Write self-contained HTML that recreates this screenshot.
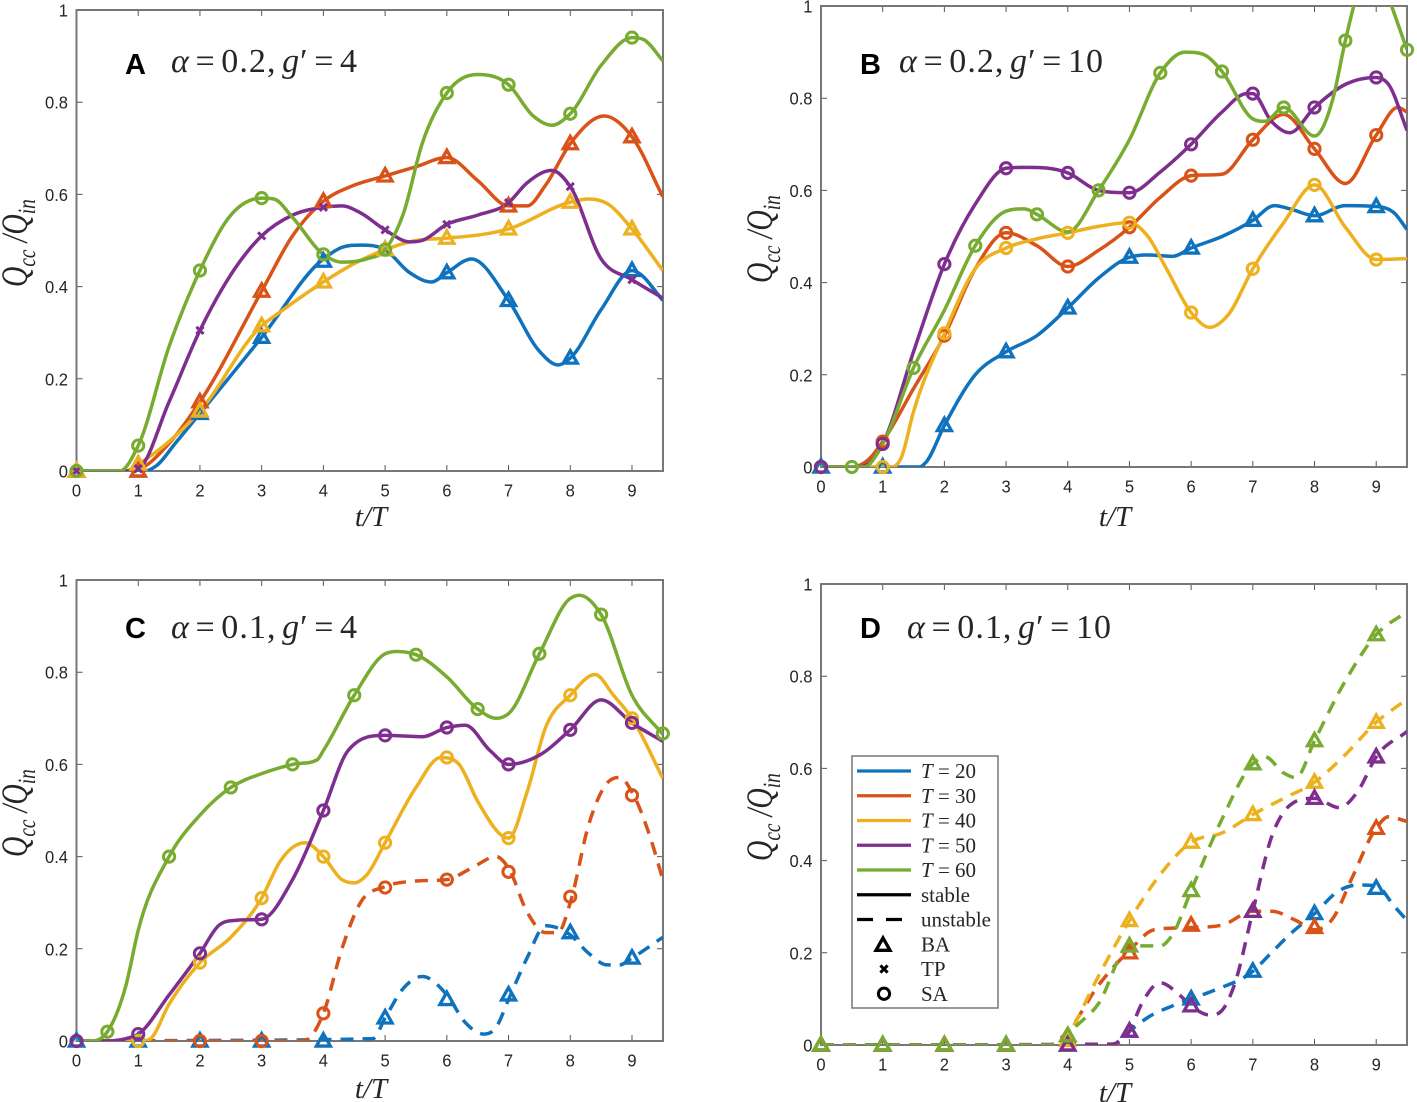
<!DOCTYPE html>
<html lang="en">
<head>
<meta charset="utf-8">
<title>Qcc/Qin versus t/T</title>
<style>
html,body{margin:0;padding:0;background:#fff;}
svg{display:block;}
.tick-text{font-family:"Liberation Sans",sans-serif;font-size:18px;fill:#262626;}
.serif{font-family:"Liberation Serif",serif;fill:#262626;}
.title{word-spacing:-4px;}
.letter{font-family:"Liberation Sans",sans-serif;font-weight:bold;font-size:29px;fill:#000;}
</style>
</head>
<body>
<svg id="figure" xmlns="http://www.w3.org/2000/svg" width="1417" height="1102" viewBox="0 0 1417 1102">
  <defs>
    <clipPath id="clip-a"><rect x="76.5" y="10" width="586.5" height="461"/></clipPath>
    <clipPath id="clip-b"><rect x="821" y="6" width="586" height="461"/></clipPath>
    <clipPath id="clip-c"><rect x="76.5" y="580" width="586.5" height="461"/></clipPath>
    <clipPath id="clip-d"><rect x="821" y="584" width="586" height="461"/></clipPath>
  </defs>

  <g id="panel-a">
    <text class="letter" x="125" y="74">A</text>
    <text class="serif title" x="171" y="72" font-size="34" textLength="186"><tspan font-style="italic">α</tspan> = 0.2, <tspan font-style="italic">g</tspan>′ = 4</text>
    <text class="serif" x="371" y="526" font-size="29" font-style="italic" text-anchor="middle">t/T</text>
    <text class="serif" transform="translate(27,287) rotate(-90) scale(0.88,1.15)" font-size="32" font-style="italic">Q<tspan font-size="22" dy="7">cc</tspan><tspan dy="-7"> /Q</tspan><tspan font-size="22" dy="7">in</tspan></text>
  </g>
  <g id="panel-b">
    <text class="letter" x="860" y="74">B</text>
    <text class="serif title" x="899" y="72" font-size="34" textLength="204"><tspan font-style="italic">α</tspan> = 0.2, <tspan font-style="italic">g</tspan>′ = 10</text>
    <text class="serif" x="1115" y="526" font-size="29" font-style="italic" text-anchor="middle">t/T</text>
    <text class="serif" transform="translate(772,283) rotate(-90) scale(0.88,1.15)" font-size="32" font-style="italic">Q<tspan font-size="22" dy="7">cc</tspan><tspan dy="-7"> /Q</tspan><tspan font-size="22" dy="7">in</tspan></text>
  </g>
  <g id="panel-c">
    <text class="letter" x="125" y="638">C</text>
    <text class="serif title" x="171" y="638" font-size="34" textLength="186"><tspan font-style="italic">α</tspan> = 0.1, <tspan font-style="italic">g</tspan>′ = 4</text>
    <text class="serif" x="371" y="1098" font-size="29" font-style="italic" text-anchor="middle">t/T</text>
    <text class="serif" transform="translate(27,857) rotate(-90) scale(0.88,1.15)" font-size="32" font-style="italic">Q<tspan font-size="22" dy="7">cc</tspan><tspan dy="-7"> /Q</tspan><tspan font-size="22" dy="7">in</tspan></text>
  </g>
  <g id="panel-d">
    <text class="letter" x="860" y="638">D</text>
    <text class="serif title" x="907" y="638" font-size="34" textLength="204"><tspan font-style="italic">α</tspan> = 0.1, <tspan font-style="italic">g</tspan>′ = 10</text>
    <text class="serif" x="1115" y="1102" font-size="29" font-style="italic" text-anchor="middle">t/T</text>
    <text class="serif" transform="translate(772,861) rotate(-90) scale(0.88,1.15)" font-size="32" font-style="italic">Q<tspan font-size="22" dy="7">cc</tspan><tspan dy="-7"> /Q</tspan><tspan font-size="22" dy="7">in</tspan></text>
  </g>

  <g id="legend"></g>
</svg>

<script>
// Axis tick labels
const xTickValues = [0,1,2,3,4,5,6,7,8,9];
const yTickValues = [0,0.2,0.4,0.6,0.8,1];
const yTickLabels = ['0','0.2','0.4','0.6','0.8','1'];
const seriesLabels = ['T = 20','T = 30','T = 40','T = 50','T = 60'];

// Shared marker times
const markInt = [0,1,2,3,4,5,6,7,8,9];
const markHalf = [0.5,1.5,2.5,3.5,4.5,5.5,6.5,7.5,8.5,9.5];

// Panel A: alpha 0.2, g' 4
const a20T = [0,1.1,1.3,1.6,2,3,4,4.3,4.6,5,5.4,5.75,6,6.4,7,7.5,7.8,8,8.5,9,9.1,9.5];
const a20V = [0,0,0.012,0.06,0.125,0.29,0.46,0.485,0.49,0.48,0.43,0.41,0.43,0.46,0.37,0.26,0.23,0.245,0.35,0.435,0.43,0.37];
const a30T = [0,0.9,1,1.5,2,3,3.5,4,4.5,5,5.5,6,6.5,7,7.3,7.6,8,8.55,9,9.5];
const a30V = [0,0,0.003,0.06,0.15,0.39,0.51,0.585,0.62,0.64,0.66,0.68,0.63,0.575,0.575,0.62,0.71,0.77,0.725,0.595];
const a40T = [0,0.8,1,2,3,3.3,4,4.5,5,5.5,6,7,8,8.3,8.6,9,9.5];
const a40V = [0,0,0.015,0.13,0.315,0.345,0.41,0.45,0.48,0.5,0.505,0.525,0.583,0.59,0.58,0.525,0.435];
const a50T = [0,0.7,1,1.5,2,3,3.5,4,4.3,4.6,5,5.4,5.6,6,6.5,7,7.3,7.7,8,8.5,9,9.5];
const a50V = [0,0,0.005,0.15,0.305,0.51,0.555,0.572,0.575,0.56,0.523,0.497,0.5,0.535,0.555,0.582,0.625,0.652,0.617,0.46,0.415,0.375];
const a60T = [0,0.7,1,1.5,2,2.5,3,3.2,3.5,4,4.3,4.7,5,5.3,5.6,6,6.5,7,7.4,7.7,8,8.5,9,9.2,9.5];
const a60V = [0,0,0.055,0.27,0.435,0.555,0.592,0.59,0.55,0.47,0.453,0.46,0.48,0.56,0.71,0.82,0.86,0.838,0.77,0.75,0.775,0.88,0.94,0.935,0.89];
const a20Mark = [0,0,0.125,0.29,0.455,0.48,0.43,0.37,0.245,0.435];
const a30Mark = [0,0,0.15,0.39,0.585,0.64,0.68,0.575,0.71,0.725];
const a40Mark = [0,0.015,0.13,0.315,0.41,0.48,0.505,0.525,0.583,0.525];
const a50Mark = [0,0.005,0.305,0.51,0.572,0.523,0.535,0.582,0.617,0.415];
const a60Mark = [0,0.055,0.435,0.592,0.47,0.48,0.82,0.838,0.775,0.94];

// Panel B: alpha 0.2, g' 10
const b20T = [0,1.6,1.7,2,2.5,3,3.5,4,4.5,5,5.3,5.7,6,6.5,7,7.35,7.6,8,8.5,9,9.3,9.5];
const b20V = [0,0,0.01,0.09,0.2,0.25,0.285,0.345,0.41,0.455,0.46,0.457,0.475,0.5,0.535,0.567,0.56,0.545,0.567,0.565,0.55,0.515];
const b30T = [0,0.5,0.8,1,1.5,2,2.5,3,3.5,4,4.5,5,5.5,6,6.5,7,7.5,8,8.5,9,9.35,9.5];
const b30V = [0,0,0.02,0.055,0.17,0.285,0.43,0.508,0.48,0.435,0.47,0.52,0.585,0.632,0.635,0.71,0.765,0.69,0.615,0.72,0.78,0.77];
const b40T = [0,1.15,1.3,1.5,2,2.5,3,3.5,4,4.5,5,5.3,5.6,6,6.3,6.6,7,7.5,8,8.5,9,9.5];
const b40V = [0,0,0.02,0.12,0.29,0.43,0.475,0.495,0.508,0.522,0.53,0.5,0.43,0.335,0.303,0.33,0.43,0.53,0.612,0.52,0.45,0.452];
const b50T = [0,0.6,0.8,1,1.5,2,2.5,3,3.3,4,4.5,5,5.5,6,6.5,6.9,7,7.3,7.6,8,8.5,9,9.2,9.5];
const b50V = [0,0,0.01,0.05,0.25,0.44,0.57,0.648,0.65,0.638,0.6,0.595,0.64,0.7,0.77,0.81,0.81,0.75,0.725,0.78,0.83,0.845,0.83,0.73];
const b60T = [0,0.7,1,1.5,2,2.5,3,3.3,3.5,4,4.5,5,5.5,5.9,6.2,6.5,7,7.2,7.5,8,8.3,8.5,8.7,9,9.25,9.5];
const b60V = [0,0,0.05,0.215,0.34,0.48,0.555,0.56,0.548,0.51,0.6,0.71,0.855,0.9,0.895,0.858,0.755,0.75,0.78,0.718,0.8,0.925,1.03,1.1,1.0,0.905];
const b20Mark = [0,0,0.09,0.25,0.345,0.455,0.475,0.535,0.545,0.565];
const b30Mark = [0,0.055,0.285,0.508,0.435,0.52,0.632,0.71,0.69,0.72];
const b40Mark = [0,0,0.29,0.475,0.508,0.53,0.335,0.43,0.612,0.45];
const b50Mark = [0,0.05,0.44,0.648,0.638,0.595,0.7,0.81,0.78,0.845];
const b60Mark = [0,0.215,0.48,0.548,0.6,0.855,0.858,0.78,0.925,0.905];

// Panel C: alpha 0.1, g' 4
const c20T = [0,4.8,5,5.3,5.6,6,6.3,6.6,6.8,7,7.3,7.6,7.8,8,8.3,8.6,8.8,9,9.5];
const c20V = [0,0.005,0.05,0.115,0.14,0.1,0.04,0.015,0.03,0.09,0.18,0.25,0.245,0.23,0.19,0.165,0.165,0.18,0.225];
const c30T = [0,3.6,3.8,4,4.3,4.6,5,5.5,6,6.4,6.8,7,7.3,7.6,7.8,8,8.3,8.6,8.8,9,9.3,9.5];
const c30V = [0,0,0.01,0.06,0.2,0.3,0.335,0.347,0.35,0.375,0.4,0.375,0.28,0.235,0.235,0.3,0.47,0.56,0.572,0.54,0.44,0.35];
const c40T = [0,1.1,1.2,1.5,2,2.5,3,3.3,3.7,4,4.3,4.5,4.7,5,5.5,5.9,6.2,6.5,7,7.3,7.6,8,8.4,8.7,9,9.5];
const c40V = [0,0,0.005,0.08,0.17,0.225,0.31,0.39,0.43,0.4,0.35,0.343,0.36,0.43,0.55,0.615,0.6,0.52,0.44,0.54,0.68,0.75,0.795,0.75,0.7,0.57];
const c50T = [0,0.4,0.8,1,1.5,2,2.3,2.6,3,3.5,4,4.4,5,5.6,6,6.3,6.7,7,7.5,8,8.5,9,9.5];
const c50V = [0,0,0.005,0.015,0.1,0.19,0.25,0.262,0.264,0.35,0.5,0.63,0.663,0.66,0.68,0.685,0.63,0.6,0.62,0.675,0.74,0.69,0.65];
const c60T = [0,0.2,0.5,0.8,1,1.5,2,2.5,3,3.5,3.9,4,4.5,5,5.2,5.5,6,6.5,6.8,7,7.5,8,8.15,8.5,9,9.5];
const c60V = [0,0,0.02,0.12,0.24,0.4,0.49,0.55,0.58,0.6,0.61,0.63,0.75,0.84,0.845,0.838,0.79,0.72,0.7,0.71,0.84,0.96,0.967,0.925,0.75,0.665];
const c20Mark = [0,0,0,0,0,0.05,0.09,0.1,0.235,0.18];
const c30MarkT = [2,3,4,5,6,7,8,9];
const c30Mark = [0,0,0.06,0.333,0.35,0.367,0.313,0.533];
const c40MarkT = [1,2,3,4,5,6,7,8,9];
const c40Mark = [0,0.17,0.31,0.4,0.43,0.615,0.44,0.75,0.7];
const c50Mark = [0,0.015,0.19,0.264,0.5,0.663,0.68,0.6,0.675,0.69];
const c60Mark = [0.02,0.4,0.55,0.6,0.75,0.838,0.72,0.84,0.925,0.667];

// Panel D: alpha 0.1, g' 10
const d20T = [0,4.7,5,5.3,5.7,6,6.4,7,7.3,7.6,8,8.4,8.7,9,9.3,9.5];
const d20V = [0,0,0.03,0.06,0.085,0.1,0.12,0.16,0.2,0.24,0.285,0.335,0.347,0.345,0.3,0.27];
const d30T = [0,3.7,4,4.5,5,5.4,6,6.5,7,7.3,7.7,8,8.3,8.6,9,9.2,9.5];
const d30V = [0,0,0.03,0.13,0.205,0.25,0.255,0.26,0.29,0.29,0.27,0.25,0.275,0.36,0.47,0.495,0.485];
const d40T = [0,3.9,4,4.5,5,5.5,6,6.5,7,7.5,8,8.5,9,9.5];
const d40V = [0,0,0.02,0.15,0.27,0.37,0.44,0.46,0.5,0.535,0.57,0.63,0.7,0.75];
const d50T = [0,4.7,5,5.2,5.5,5.8,6,6.3,6.5,6.7,7,7.3,7.6,8,8.4,8.7,9,9.5];
const d50V = [0,0.002,0.03,0.09,0.135,0.11,0.085,0.065,0.075,0.13,0.29,0.45,0.52,0.535,0.515,0.55,0.625,0.68];
const d60T = [0,3.9,4,4.5,5,5.3,5.5,5.7,6,6.5,7,7.2,7.5,7.7,8,8.5,9,9.5];
const d60V = [0,0,0.02,0.09,0.215,0.215,0.215,0.24,0.335,0.49,0.61,0.625,0.59,0.58,0.66,0.79,0.89,0.94];
const d20Mark = [0,0,0,0,0,0.03,0.1,0.16,0.285,0.34];
const d30Mark = [0,0,0,0,0.02,0.2,0.26,0.29,0.255,0.47];
const d40Mark = [0,0,0,0,0.01,0.27,0.44,0.5,0.57,0.7];
const d50Mark = [0,0,0,0,0,0.03,0.085,0.29,0.535,0.625];
const d60Mark = [0,0,0,0,0.02,0.215,0.335,0.61,0.66,0.89];

const colors = {t20:'#0f72bd', t30:'#d95319', t40:'#edb120', t50:'#7e2f8e', t60:'#77ac30'};

const panels = [
  {id:'a', left:76.5, right:663, x0:76.5, xUnit:61.72, top:10, bottom:471, series:[
    {key:'t20', t:a20T, v:a20V, dash:false, marker:'tri', mt:markInt, mv:a20Mark},
    {key:'t30', t:a30T, v:a30V, dash:false, marker:'tri', mt:markInt, mv:a30Mark},
    {key:'t40', t:a40T, v:a40V, dash:false, marker:'tri', mt:markInt, mv:a40Mark},
    {key:'t50', t:a50T, v:a50V, dash:false, marker:'x',   mt:markInt, mv:a50Mark},
    {key:'t60', t:a60T, v:a60V, dash:false, marker:'circ',mt:markInt, mv:a60Mark}]},
  {id:'b', left:821, right:1407, x0:821, xUnit:61.69, top:6, bottom:467, series:[
    {key:'t20', t:b20T, v:b20V, dash:false, marker:'tri', mt:markInt, mv:b20Mark},
    {key:'t30', t:b30T, v:b30V, dash:false, marker:'circ',mt:markInt, mv:b30Mark},
    {key:'t40', t:b40T, v:b40V, dash:false, marker:'circ',mt:markInt, mv:b40Mark},
    {key:'t50', t:b50T, v:b50V, dash:false, marker:'circ',mt:markInt, mv:b50Mark},
    {key:'t60', t:b60T, v:b60V, dash:false, marker:'circ',mt:markHalf,mv:b60Mark}]},
  {id:'c', left:76.5, right:663, x0:76.5, xUnit:61.72, top:580, bottom:1041, series:[
    {key:'t20', t:c20T, v:c20V, dash:true,  marker:'tri', mt:markInt, mv:c20Mark},
    {key:'t30', t:c30T, v:c30V, dash:true,  marker:'circ',mt:c30MarkT,mv:c30Mark},
    {key:'t40', t:c40T, v:c40V, dash:false, marker:'circ',mt:c40MarkT,mv:c40Mark},
    {key:'t50', t:c50T, v:c50V, dash:false, marker:'circ',mt:markInt, mv:c50Mark},
    {key:'t60', t:c60T, v:c60V, dash:false, marker:'circ',mt:markHalf,mv:c60Mark}]},
  {id:'d', left:821, right:1407, x0:821, xUnit:61.69, top:584, bottom:1045, series:[
    {key:'t20', t:d20T, v:d20V, dash:true, marker:'tri', mt:markInt, mv:d20Mark},
    {key:'t30', t:d30T, v:d30V, dash:true, marker:'tri', mt:markInt, mv:d30Mark},
    {key:'t40', t:d40T, v:d40V, dash:true, marker:'tri', mt:markInt, mv:d40Mark},
    {key:'t50', t:d50T, v:d50V, dash:true, marker:'tri', mt:markInt, mv:d50Mark},
    {key:'t60', t:d60T, v:d60V, dash:true, marker:'tri', mt:markInt, mv:d60Mark}]}
];

const NS = 'http://www.w3.org/2000/svg';
function mk(tag, attrs, parent){
  const el = document.createElementNS(NS, tag);
  for (const k in attrs) el.setAttribute(k, attrs[k]);
  if (parent) parent.appendChild(el);
  return el;
}

// Smooth limited cubic path through the data knots
function smoothPath(xs, ys){
  const n = xs.length, d = [], m = [];
  for (let i = 0; i < n-1; i++) d.push((ys[i+1]-ys[i])/(xs[i+1]-xs[i]));
  m[0] = d[0]; m[n-1] = d[n-2];
  for (let i = 1; i < n-1; i++){
    if (d[i-1]*d[i] <= 0) { m[i] = 0; continue; }
    const h0 = xs[i]-xs[i-1], h1 = xs[i+1]-xs[i];
    const c = (h1*d[i-1]+h0*d[i])/(h0+h1);
    const lim = 3*Math.min(Math.abs(d[i-1]),Math.abs(d[i]));
    m[i] = Math.sign(c)*Math.min(Math.abs(c),lim);
  }
  let p = 'M'+xs[0].toFixed(2)+' '+ys[0].toFixed(2);
  for (let i = 0; i < n-1; i++){
    const h = (xs[i+1]-xs[i])/3;
    p += 'C'+(xs[i]+h).toFixed(2)+' '+(ys[i]+m[i]*h).toFixed(2)+' '+
         (xs[i+1]-h).toFixed(2)+' '+(ys[i+1]-m[i+1]*h).toFixed(2)+' '+
         xs[i+1].toFixed(2)+' '+ys[i+1].toFixed(2);
  }
  return p;
}

function drawMarker(group, type, cx, cy, color){
  let el;
  if (type === 'tri'){
    const r = 7;
    el = mk('path', {d:'M'+cx+' '+(cy-r*1.05)+'L'+(cx+r)+' '+(cy+r*0.72)+'L'+(cx-r)+' '+(cy+r*0.72)+'Z', fill:'none', stroke:color, 'stroke-width':3.3, 'stroke-linejoin':'miter'}, group);
  } else if (type === 'circ'){
    el = mk('circle', {cx:cx, cy:cy, r:5.6, fill:'none', stroke:color, 'stroke-width':3}, group);
  } else {
    const r = 3.6;
    el = mk('path', {d:'M'+(cx-r)+' '+(cy-r)+'L'+(cx+r)+' '+(cy+r)+'M'+(cx+r)+' '+(cy-r)+'L'+(cx-r)+' '+(cy+r), fill:'none', stroke:color, 'stroke-width':3}, group);
  }
  return el;
}

panels.forEach(function(p){
  const root = document.getElementById('panel-'+p.id);
  const sx = function(t){ return p.x0 + t*p.xUnit; };
  const sy = function(v){ return p.bottom - v*(p.bottom-p.top); };

  const axes = mk('g', {}, root);
  
  

  xTickValues.forEach(function(tv){
    const x = sx(tv);
    mk('path', {d:'M'+x+' '+p.bottom+'V'+(p.bottom-6)+'M'+x+' '+p.top+'V'+(p.top+6), stroke:'#555', 'stroke-width':1, fill:'none'}, axes);
    const lab = mk('text', {transform:'translate('+x+','+(p.bottom+25.5)+') scale(0.92,1)', 'text-anchor':'middle', class:'tick-text'}, axes);
    
    
    lab.textContent = String(tv);
  });
  yTickValues.forEach(function(tv, i){
    const y = sy(tv);
    mk('path', {d:'M'+p.left+' '+y+'H'+(p.left+6)+'M'+p.right+' '+y+'H'+(p.right-6), stroke:'#555', 'stroke-width':1, fill:'none'}, axes);
    const lab = mk('text', {transform:'translate('+(p.left-8.5)+','+(y+6.5)+') scale(0.92,1)', 'text-anchor':'end', class:'tick-text'}, axes);
    
    
    lab.textContent = yTickLabels[i];
  });
  mk('rect', {x:p.left, y:p.top, width:p.right-p.left, height:p.bottom-p.top, fill:'none', stroke:'#777', 'stroke-width':2}, axes);

  const lines = mk('g', {'clip-path':'url(#clip-'+p.id+')'}, root);
  p.series.forEach(function(s){
    const path = mk('path', {
      d: smoothPath(s.t.map(sx), s.v.map(sy)),
      fill:'none', stroke:colors[s.key], 'stroke-width':3.5, 'stroke-linejoin':'round'
    }, lines);
    if (s.dash) path.setAttribute('stroke-dasharray', '13 9');
    
    
  });

  const marks = mk('g', {}, root);
  p.series.forEach(function(s){
    s.mv.forEach(function(v, i){
      const m = drawMarker(marks, s.marker, sx(s.mt[i]), sy(v), colors[s.key]);
      
      
    });
  });
});

// Legend
(function(){
  const lg = document.getElementById('legend');
  mk('rect', {x:852, y:756, width:146, height:252, fill:'#fff', stroke:'#777', 'stroke-width':1.5}, lg);
  const keys = ['t20','t30','t40','t50','t60'];
  const rowY = function(i){ return 771 + i*24.75; };
  keys.forEach(function(k, i){
    const l = mk('line', {x1:857, x2:911, y1:rowY(i), y2:rowY(i), stroke:colors[k], 'stroke-width':3.2}, lg);
    
    
    const t = mk('text', {x:921, y:rowY(i)+7, class:'serif', 'font-size':21}, lg);
    
    
    const it = mk('tspan', {'font-style':'italic'}, t);
    it.textContent = 'T';
    t.appendChild(document.createTextNode(seriesLabels[i].slice(1)));
  });
  const solid = mk('line', {x1:857, x2:911, y1:rowY(5), y2:rowY(5), stroke:'#000', 'stroke-width':3.2}, lg);
  
  
  const dashed = mk('line', {x1:857, x2:902, y1:rowY(6), y2:rowY(6), stroke:'#000', 'stroke-width':3.2, 'stroke-dasharray':'16 13'}, lg);
  
  
  const tri = drawMarker(lg, 'tri', 883, rowY(7)+1, '#000');
  
  
  const cross = drawMarker(lg, 'x', 884, rowY(8), '#000');
  
  
  const circ = drawMarker(lg, 'circ', 884, rowY(9), '#000');
  
  
  ['stable','unstable','BA','TP','SA'].forEach(function(txt, i){
    const t = mk('text', {x:921, y:rowY(i+5)+7, class:'serif', 'font-size':21}, lg);
    
    
    t.textContent = txt;
  });
})();
</script>
</body>
</html>
